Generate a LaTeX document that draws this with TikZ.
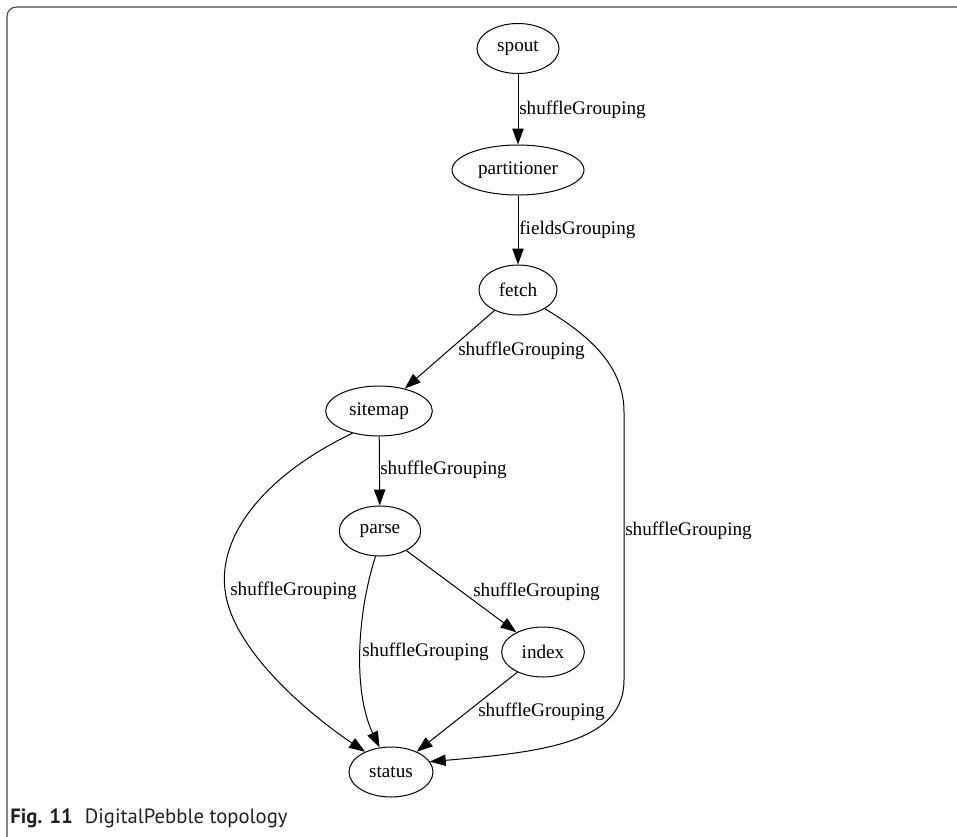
\documentclass[tikz,border=0pt]{standalone}
\usepackage{fontspec}
\setmainfont{Liberation Serif}
\newfontfamily\captionfont{PT Sans}
\usepackage{tikz}
\usetikzlibrary{shapes.geometric,arrows.meta,positioning,calc}
\definecolor{framecolor}{RGB}{70,70,70}
\definecolor{captioncolor}{RGB}{35,31,32}
\tikzset{
  vertex/.style={draw, ellipse, line width=0.75pt, inner sep=0pt, minimum height=37.5pt, font=\fontsize{14.4}{16}\selectfont},
  lbl/.style={anchor=west, inner sep=0pt, font=\fontsize{14.4}{16}\selectfont},
  flow/.style={line width=0.75pt, -{Triangle[length=12pt,width=8.5pt]}}
}

\begin{document}
\begin{tikzpicture}[x=0.75pt, y=-0.75pt]
    \useasboundingbox (0,0) rectangle (957,836);

    % Frame
    \draw[framecolor, line width=0.8pt, rounded corners=7pt] (960,7) -- (7,7) -- (7,842);

    % Bolts
    \node[vertex, minimum width=61.5pt] (spout) at (518,48.5) {spout};
    \node[vertex, minimum width=99pt] (partitioner) at (518,170) {partitioner};
    \node[vertex, minimum width=58.5pt] (fetch) at (518,290) {fetch};
    \node[vertex, minimum width=80pt] (sitemap) at (379,411) {sitemap};
    \node[vertex, minimum width=61pt] (parse) at (380,531) {parse};
    \node[vertex, minimum width=62pt] (index) at (543,652) {index};
    \node[vertex, minimum width=63pt] (status) at (391,772) {status};

    % Streams
    \draw[flow] (spout) -- (partitioner);
    \draw[flow] (partitioner) -- (fetch);
    \draw[flow] (fetch) -- (sitemap);
    \draw[flow] (sitemap) -- (parse);
    \draw[flow] (parse) -- (index);
    \draw[flow] (index) -- (status);
    \draw[flow] (parse.-100) .. controls (358,610) and (352,690) .. (status.115);
    \draw[flow] (sitemap.-140) .. controls (265,475) and (218,535) .. (225,590)
        .. controls (232,650) and (310,715) .. (status.142);
    \draw[flow] (fetch.-35) .. controls (598,340) and (624,372) .. (624,412)
        -- (624,680) .. controls (624,742) and (545,752) .. (status.15);

    % Groupings
    \node[lbl] (l1) at (519,110) {shuffleGrouping};
    \node[lbl] (l2) at (519,230) {fieldsGrouping};
    \node[lbl] (l3) at (458,351) {shuffleGrouping};
    \node[lbl] (l4) at (380,470) {shuffleGrouping};
    \node[lbl] (l5) at (625,531) {shuffleGrouping};
    \node[lbl] (l6) at (230,591) {shuffleGrouping};
    \node[lbl] (l7) at (362,652) {shuffleGrouping};
    \node[lbl] (l8) at (473,592) {shuffleGrouping};
    \node[lbl] (l9) at (478,712) {shuffleGrouping};

    % Caption
    \node[anchor=west, inner sep=0pt, text=captioncolor, font=\captionfont\fontsize{15.5}{18}\selectfont] (caption) at (10,818)
        {\textbf{Fig. 11}\hspace{9pt}DigitalPebble topology};
\end{tikzpicture}
\end{document}
